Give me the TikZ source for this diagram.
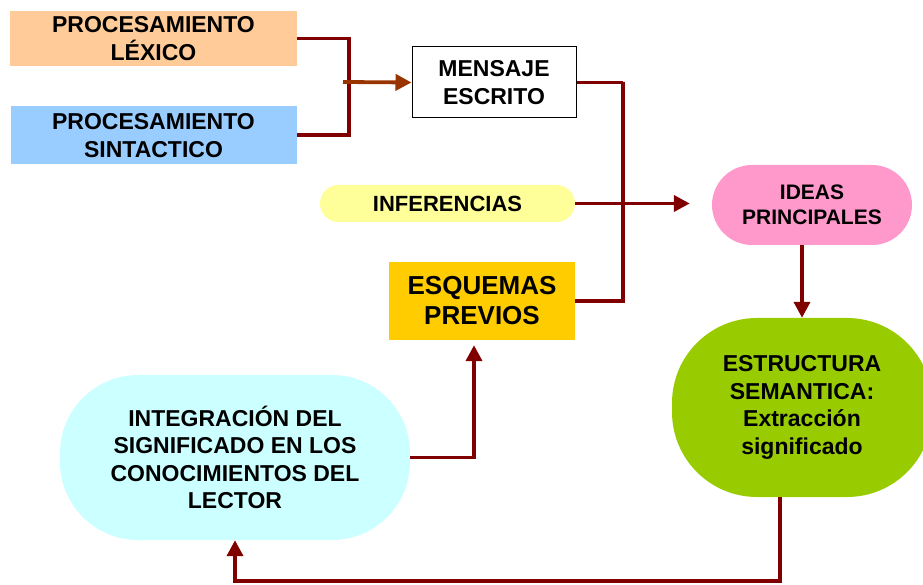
\documentclass[tikz,border=0pt]{standalone}
\usepackage{fontspec}
\setmainfont{Liberation Sans}
\usetikzlibrary{positioning,arrows.meta}
\definecolor{colorlexico}  {RGB}{255,204,153}
\definecolor{colorsintax}  {RGB}{153,204,255}
\definecolor{colorinfer}   {RGB}{255,255,153}
\definecolor{colorideas}   {RGB}{255,153,204}
\definecolor{coloresquema} {RGB}{255,204,0  }
\definecolor{colorestruct} {RGB}{153,204,0  }
\definecolor{colorinteg}   {RGB}{204,255,255}
\definecolor{colorlink}    {RGB}{128,0  ,0  }
\definecolor{colorfeed}    {RGB}{153,51 ,0  }

\begin{document}
\begin{tikzpicture}[
    x=1pt, y=1pt,
    node distance = 40pt,
    base/.style={text=black,font={\fontsize{23}{27.5}\selectfont\bfseries},inner sep=0pt,align=center,rectangle},
    pill/.style={base,rounded corners=#1},
    link/.style={draw=colorlink,line width=3.8pt},
    linkarrow/.style={link,-{Triangle[length=16pt,width=16pt]}},
]
    \useasboundingbox (0,0) rectangle (923,584);

    % Nodes
    \node[base,fill=colorlexico,minimum width=287pt,minimum height=55pt] at (153.5,545.5) (lexico) {PROCESAMIENTO\\LÉXICO};
    \node[base,fill=colorsintax,minimum width=286pt,minimum height=58pt,below=40pt of lexico] (sintactico) {PROCESAMIENTO\\SINTACTICO};
    \node[base,draw=black,line width=1pt,minimum width=164pt,minimum height=71pt] at (494,501.5) (mensaje) {MENSAJE\\ESCRITO};
    \node[pill=18.5pt,fill=colorinfer,font={\fontsize{22}{26}\selectfont\bfseries},minimum width=255pt,minimum height=37pt] at (447.5,380.5) (inferencias) {INFERENCIAS};
    \node[base,fill=coloresquema,font={\fontsize{26}{30}\selectfont\bfseries},minimum width=186pt,minimum height=78pt] at (482,283) (esquemas) {ESQUEMAS\\PREVIOS};
    \node[pill=40pt,fill=colorideas,font={\fontsize{21}{25}\selectfont\bfseries},minimum width=200pt,minimum height=80pt] at (812,379) (ideas) {IDEAS\\PRINCIPALES};
    \node[pill=85pt,fill=colorestruct,minimum width=260pt,minimum height=179pt] at (802,176.5) (estructura) {ESTRUCTURA\\SEMANTICA:\\Extracción\\significado};
    \node[pill=78pt,fill=colorinteg,minimum width=350pt,minimum height=165pt] at (235,126.5) (integracion) {INTEGRACIÓN DEL\\SIGNIFICADO EN LOS\\CONOCIMIENTOS DEL\\LECTOR};

    % Bus coordinates
    \coordinate (busA) at (349,502);
    \coordinate (busB) at (623,502);

    % Arrows
    \draw[link] (lexico.east) -| (busA) |- (sintactico.east);
    \draw[link,draw=colorfeed,-{Triangle[length=16pt,width=16pt]}] ([xshift=-6pt]busA) -- (mensaje.west);
    \draw[link] (mensaje.east) -| (busB) |- (esquemas.east);
    \draw[linkarrow,shorten >=22pt] (inferencias.east) -- (inferencias.east -| ideas.west);
    \draw[linkarrow] (estructura.north |- ideas.south) -- (estructura.north);
    \draw[linkarrow] ([xshift=-22pt]estructura.south) |- ([yshift=-41pt]integracion.south) -- (integracion.south);
    \draw[linkarrow,shorten >=5pt] (integracion.east) -| ([xshift=-8pt]esquemas.south);

\end{tikzpicture}
\end{document}
